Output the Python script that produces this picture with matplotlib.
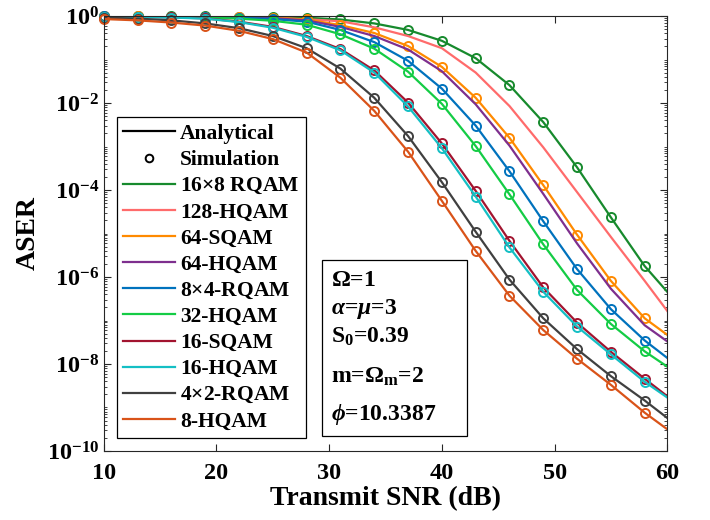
import numpy as np
import matplotlib
matplotlib.use("Agg")
import matplotlib.pyplot as plt
from matplotlib.patches import Rectangle
from matplotlib.ticker import LogLocator, NullFormatter, NullLocator

plt.rcParams['font.family'] = ['Liberation Serif', 'DejaVu Serif']
plt.rcParams['font.weight'] = 'bold'
plt.rcParams['axes.labelweight'] = 'bold'
plt.rcParams['mathtext.fontset'] = 'custom'
plt.rcParams['mathtext.rm'] = 'Liberation Serif:bold'
plt.rcParams['mathtext.bf'] = 'Liberation Serif:bold'
plt.rcParams['mathtext.it'] = 'Liberation Serif:italic:bold'
plt.rcParams['axes.unicode_minus'] = False

# transmit SNR (dB) grid of the curves, simulation points every 3 dB
snr = [10, 13, 16, 19, 22, 25, 28, 31, 34, 37, 40, 43, 46, 49, 52, 55, 58, 60]
n_sim = 17

# log10(ASER)
rqam16x8 = [-0.005, -0.006, -0.008, -0.01, -0.015, -0.02, -0.04, -0.08, -0.17, -0.32,
            -0.57, -0.97, -1.59, -2.44, -3.48, -4.63, -5.75, -6.34]
hqam128 = [-0.006, -0.008, -0.012, -0.018, -0.028, -0.045, -0.075, -0.12, -0.26, -0.46,
           -0.74, -1.30, -2.07, -3.02, -4.05, -5.08, -6.09, -6.78]
sqam64 = [-0.008, -0.01, -0.012, -0.016, -0.022, -0.04, -0.08, -0.21, -0.39, -0.69,
          -1.17, -1.88, -2.80, -3.89, -5.03, -6.09, -6.95, -7.33]
hqam64 = [-0.009, -0.012, -0.015, -0.02, -0.028, -0.05, -0.10, -0.25, -0.46, -0.77,
          -1.27, -2.03, -2.98, -4.09, -5.23, -6.27, -7.11, -7.48]
rqam8x4 = [-0.01, -0.012, -0.015, -0.025, -0.04, -0.07, -0.13, -0.32, -0.60, -1.03,
           -1.67, -2.52, -3.57, -4.72, -5.82, -6.74, -7.46, -7.86]
hqam32 = [-0.015, -0.018, -0.022, -0.035, -0.06, -0.11, -0.20, -0.42, -0.75, -1.28,
          -2.02, -2.99, -4.10, -5.25, -6.30, -7.08, -7.71, -8.06]
sqam16 = [-0.018, -0.022, -0.03, -0.055, -0.13, -0.25, -0.46, -0.76, -1.25, -1.99,
          -2.93, -4.02, -5.17, -6.24, -7.05, -7.72, -8.34, -8.74]
hqam16 = [-0.02, -0.025, -0.035, -0.06, -0.14, -0.27, -0.48, -0.79, -1.30, -2.08,
          -3.04, -4.15, -5.32, -6.34, -7.14, -7.78, -8.41, -8.77]
rqam4x2 = [-0.04, -0.06, -0.10, -0.17, -0.28, -0.46, -0.74, -1.21, -1.88, -2.76,
           -3.82, -4.96, -6.06, -6.95, -7.66, -8.28, -8.84, -9.24]
hqam8 = [-0.07, -0.10, -0.15, -0.22, -0.34, -0.53, -0.84, -1.42, -2.18, -3.12,
         -4.25, -5.40, -6.43, -7.22, -7.88, -8.48, -9.12, -9.50]

labels = ['16$\\times$8 RQAM', '128-HQAM', '64-SQAM', '64-HQAM', '8$\\times$4-RQAM',
          '32-HQAM', '16-SQAM', '16-HQAM', '4$\\times$2-RQAM', '8-HQAM']
series = [rqam16x8, hqam128, sqam64, hqam64, rqam8x4, hqam32, sqam16, hqam16, rqam4x2, hqam8]
colors = ['#178a2d', '#ff6b6b', '#ff8a00', '#7e2f8e', '#0072bd',
          '#14cc45', '#a2142f', '#14bfc4', '#404040', '#d95319']
has_sim = [True, False, True, False, True, True, True, True, True, True]

fig = plt.figure(figsize=(7.1, 5.2), dpi=100)
ax = fig.add_axes([0.1462, 0.1327, 0.7936, 0.8365])

x = np.array(snr)
for vals, col, sim in zip(series, colors, has_sim):
    y = 10.0 ** np.array(vals)
    ax.plot(x, y, color=col, lw=1.6)
    if sim:
        ax.plot(x[:n_sim], y[:n_sim], 'o', color=col, mfc='none', ms=6.5, mew=1.4,
                clip_on=False)

ax.set_yscale('log')
ax.set_xlim(10, 60)
ax.set_ylim(1e-10, 1)
ax.set_xticks([10, 20, 30, 40, 50, 60])
ax.xaxis.set_minor_locator(NullLocator())
ax.set_yticks(10.0 ** np.arange(-10, 1, 2))
ax.yaxis.set_minor_locator(LogLocator(base=10, subs=np.arange(1, 10), numticks=100))
ax.yaxis.set_minor_formatter(NullFormatter())
ax.tick_params(which='both', direction='in', top=True, right=True, colors='#262626',
               labelcolor='black', labelsize=17.5)
ax.tick_params(which='major', length=5, width=0.8)
ax.tick_params(axis='x', which='major', pad=9)
ax.tick_params(which='minor', length=2.5, width=0.6)
for s in ax.spines.values():
    s.set_color('#262626')
    s.set_linewidth(0.8)

ax.set_xlabel('Transmit SNR (dB)', fontsize=20, labelpad=1)
ax.set_ylabel('ASER', fontsize=20, labelpad=4)

# legend: black line / circle proxies followed by the colour entries
handles = [plt.Line2D([], [], color='black', lw=1.6),
           plt.Line2D([], [], ls='none', marker='o', color='black', mfc='none', ms=5.5, mew=1.4)]
handles += [plt.Line2D([], [], color=c, lw=1.6) for c in colors]
leg = ax.legend(handles, ['Analytical', 'Simulation'] + labels, loc='lower left',
                bbox_to_anchor=(0.023, 0.030), borderaxespad=0, fontsize=15.5,
                frameon=True, fancybox=False, framealpha=1, edgecolor='black',
                handlelength=2.4, handletextpad=0.25, labelspacing=0.28, borderpad=0.3)
leg.get_frame().set_linewidth(0.9)

# parameter box
ax.add_patch(Rectangle((0.387, 0.0345), 0.258, 0.4045, transform=ax.transAxes,
                       fill=True, facecolor='white', edgecolor='black', lw=0.9, zorder=5))
params = [r'$\Omega$=1', r'$\alpha$=$\mu$=3', r'S$_0$=0.39', r'm=$\Omega_{\rm m}$=2',
          r'$\phi$=10.3387']
ypos = [0.393, 0.326, 0.262, 0.170, 0.083]
for t, yy in zip(params, ypos):
    ax.text(0.403, yy, t, transform=ax.transAxes, fontsize=17, va='center', ha='left',
            zorder=6)

fig.savefig('out.png', dpi=100)
